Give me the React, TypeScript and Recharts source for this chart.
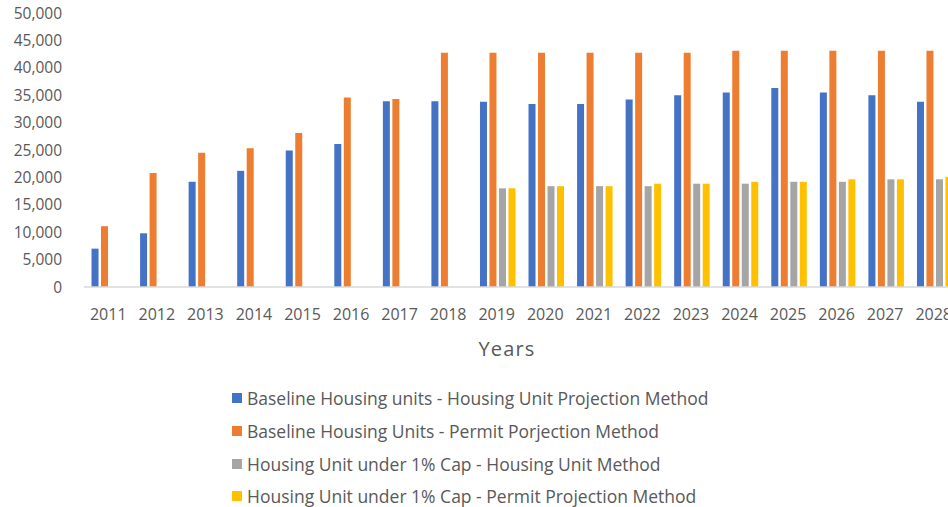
import React from "react";
import { BarChart, Bar, XAxis, YAxis, Legend } from "recharts";

const years = ["2011","2012","2013","2014","2015","2016","2017","2018","2019","2020","2021","2022","2023","2024","2025","2026","2027","2028"];
const baselineHU = [7000, 9800, 19200, 21200, 24900, 26100, 33900, 33900, 33800, 33400, 33400, 34200, 35000, 35500, 36300, 35500, 35000, 33800];
const baselinePermit = [11100, 20800, 24500, 25300, 28100, 34600, 34300, 42750, 42750, 42750, 42750, 42750, 42750, 43100, 43100, 43100, 43100, 43100];
const capHU = [null, null, null, null, null, null, null, null, 18000, 18400, 18400, 18400, 18850, 18850, 19200, 19200, 19650, 19650];
const capPermit = [null, null, null, null, null, null, null, null, 18000, 18400, 18400, 18850, 18850, 19200, 19200, 19650, 19650, 20100];
const yTicks = [0, 5000, 10000, 15000, 20000, 25000, 30000, 35000, 40000, 45000, 50000];

const series = [
  { key: "a", name: "Baseline Housing units - Housing Unit Projection Method", color: "#4472C4" },
  { key: "b", name: "Baseline Housing Units - Permit Porjection Method", color: "#ED7D31" },
  { key: "c", name: "Housing Unit under 1% Cap - Housing Unit Method", color: "#A5A5A5" },
  { key: "d", name: "Housing Unit under 1% Cap - Permit Projection Method", color: "#FFC000" },
];

const data = years.map((y, i) => ({
  year: y,
  a: baselineHU[i],
  b: baselinePermit[i],
  c: capHU[i],
  d: capPermit[i],
}));

const FONT = "'Open Sans', 'Noto Sans', sans-serif";
const TEXT = "#595959";

const LegendContent = () => (
  <div style={{ height: 130, paddingLeft: 232, paddingTop: 20, boxSizing: "border-box", fontFamily: FONT }}>
    {series.map((s) => (
      <div key={s.key} style={{ height: 32.7, display: "flex", alignItems: "center" }}>
        <span style={{ width: 10, height: 10, background: s.color, display: "inline-block", marginRight: 5, flex: "none" }} />
        <span style={{ fontSize: 17.5, color: TEXT, whiteSpace: "nowrap" }}>{s.name}</span>
      </div>
    ))}
  </div>
);

export default function App() {
  return (
    <div style={{ width: 948, height: 507, overflow: "hidden", position: "relative", background: "#fff" }}>
      <style>{"html,body{margin:0;padding:0;overflow:hidden;}"}</style>
      <BarChart
        width={968}
        height={507}
        data={data}
        margin={{ top: 13, right: 10, left: 0, bottom: 15 }}
        barCategoryGap="15.5%"
        barGap={2.5}
        style={{ fontFamily: FONT }}
      >
        <YAxis
          width={84}
          domain={[0, 50000]}
          ticks={yTicks}
          interval={0}
          axisLine={false}
          tickLine={false}
          tickSize={0}
          tickMargin={22}
          tick={{ fill: TEXT, fontSize: 15.5 }}
          tickFormatter={(v: number) => v.toLocaleString("en-US")}
        />
        <XAxis
          dataKey="year"
          height={75}
          interval={0}
          tickLine={false}
          tickSize={0}
          tickMargin={22}
          axisLine={{ stroke: "#D9D9D9", strokeWidth: 1.5 }}
          tick={{ fill: TEXT, fontSize: 16 }}
          label={{ value: "Years", position: "insideBottom", offset: 6, dx: -14, fill: TEXT, fontSize: 20, letterSpacing: 1.2 }}
        />
        <Legend verticalAlign="bottom" align="left" content={<LegendContent />} />
        {series.map((s) => (
          <Bar key={s.key} dataKey={s.key} name={s.name} fill={s.color} isAnimationActive={false} />
        ))}
      </BarChart>
    </div>
  );
}
